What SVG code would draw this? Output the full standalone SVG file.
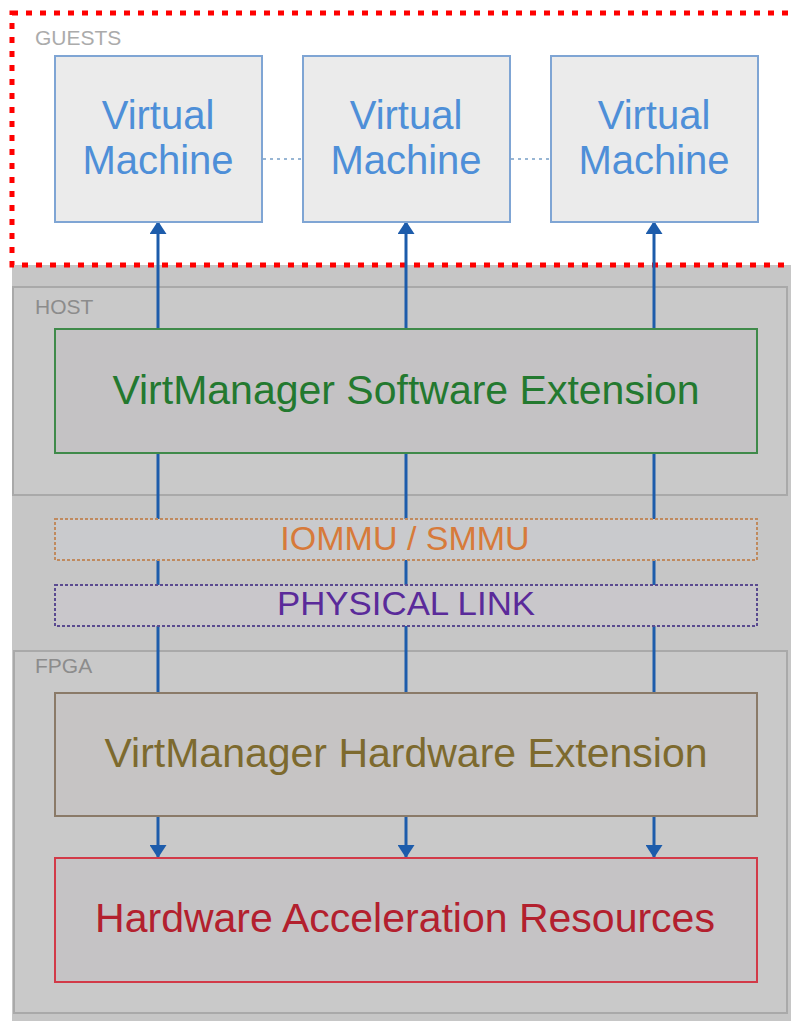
<svg xmlns="http://www.w3.org/2000/svg" width="791" height="1021" viewBox="0 0 791 1021">
<style>
text{font-family:"Liberation Sans",Arial,sans-serif}
.sec{fill:#c9c9c9;stroke:#a9a9a9;stroke-width:2}
.lbl{font-size:21px;fill:#8c8c8c}
.vm rect{fill:#ebebeb;stroke:#7fa5d4;stroke-width:2}
.vm text{font-size:40px;fill:#4e8fd8;text-anchor:middle}
.big{font-size:41px;text-anchor:middle}
.mid{font-size:34px;text-anchor:middle}
.wire{stroke:#1d5cab;stroke-width:3;fill:none}
.dot{stroke:#98b6d4;stroke-width:2;stroke-dasharray:3 4;fill:none}
</style>
<defs>
<marker id="ah" viewBox="0 0 13 17" refX="12" refY="8.5" markerWidth="13" markerHeight="17" markerUnits="userSpaceOnUse" orient="auto">
<path d="M0,0 L13,8.5 L0,17 Z" fill="#1d5cab"/>
</marker>
</defs>
<rect x="0" y="0" width="791" height="1021" fill="#ffffff"/>
<rect x="12" y="265" width="779" height="756" fill="#c6c6c6"/>
<g id="guests">
<rect x="12" y="13" width="785" height="252" fill="#ffffff" stroke="#ff0000" stroke-width="5" stroke-dasharray="6 8"/>
<text x="35" y="45" class="lbl" style="fill:#ababab">GUESTS</text>
</g>
<g id="host">
<rect x="13" y="287" width="774" height="208" class="sec"/>
<text x="35" y="314" class="lbl">HOST</text>
</g>
<g id="fpga">
<rect x="14" y="651" width="773" height="362" class="sec"/>
<text x="35" y="673" class="lbl">FPGA</text>
</g>
<g id="connectors">
<line class="wire" x1="158" y1="329" x2="158" y2="222" marker-end="url(#ah)"/>
<line class="wire" x1="406" y1="329" x2="406" y2="222" marker-end="url(#ah)"/>
<line class="wire" x1="654" y1="329" x2="654" y2="222" marker-end="url(#ah)"/>
<line class="wire" x1="158" y1="453" x2="158" y2="693"/>
<line class="wire" x1="406" y1="453" x2="406" y2="693"/>
<line class="wire" x1="654" y1="453" x2="654" y2="693"/>
<line class="wire" x1="158" y1="816" x2="158" y2="857" marker-end="url(#ah)"/>
<line class="wire" x1="406" y1="816" x2="406" y2="857" marker-end="url(#ah)"/>
<line class="wire" x1="654" y1="816" x2="654" y2="857" marker-end="url(#ah)"/>
<line class="dot" x1="263" y1="159" x2="303" y2="159"/>
<line class="dot" x1="511" y1="159" x2="551" y2="159"/>
</g>
<g id="vm1" class="vm">
<rect x="55" y="56" width="207" height="166"/>
<text x="158" y="129">Virtual</text>
<text x="158" y="174">Machine</text>
</g>
<g id="vm2" class="vm">
<rect x="303" y="56" width="207" height="166"/>
<text x="406" y="129">Virtual</text>
<text x="406" y="174">Machine</text>
</g>
<g id="vm3" class="vm">
<rect x="551" y="56" width="207" height="166"/>
<text x="654" y="129">Virtual</text>
<text x="654" y="174">Machine</text>
</g>
<g id="sw-ext">
<rect x="55" y="329" width="702" height="124" fill="#c4c2c4" stroke="#3f8a4a" stroke-width="2"/>
<text x="406" y="404" class="big" fill="#23792f">VirtManager Software Extension</text>
</g>
<g id="iommu">
<rect x="55" y="519" width="702" height="41" fill="#c9cacd" stroke="#c08a5e" stroke-width="2" stroke-dasharray="3 2"/>
<text x="405" y="550" class="mid" fill="#d77a3a">IOMMU / SMMU</text>
</g>
<g id="phys">
<rect x="55" y="585" width="702" height="41" fill="#c9c7cb" stroke="#5a4a90" stroke-width="2" stroke-dasharray="3 2"/>
<text x="406" y="615" class="mid" fill="#5a2a9a" textLength="258" lengthAdjust="spacingAndGlyphs">PHYSICAL LINK</text>
</g>
<g id="hw-ext">
<rect x="55" y="693" width="702" height="123" fill="#c6c4c4" stroke="#8a7a68" stroke-width="2"/>
<text x="406" y="767" class="big" fill="#7d6a2e">VirtManager Hardware Extension</text>
</g>
<g id="har">
<rect x="55" y="858" width="702" height="124" fill="#c5c3c5" stroke="#d23a48" stroke-width="2"/>
<text x="405" y="932" class="big" fill="#b3202e">Hardware Acceleration Resources</text>
</g>
</svg>
